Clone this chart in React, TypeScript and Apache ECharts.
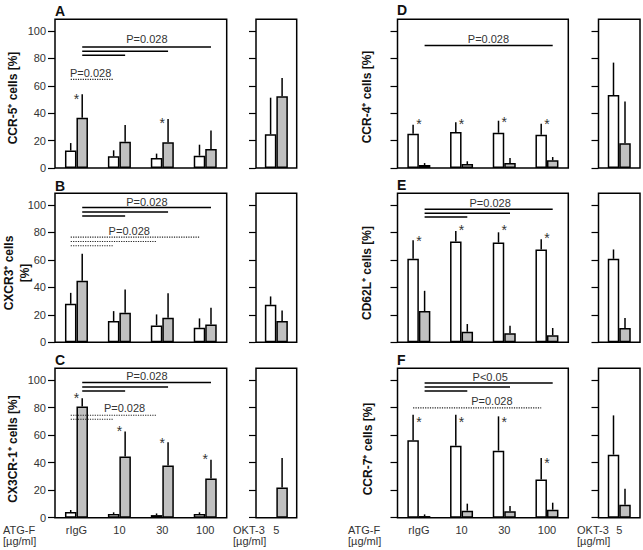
import { useEffect, useRef } from "react";
import * as echarts from "echarts";

const categories = ["rIgG", "10", "30", "100"];
const oktCategories = ["5"];
const yTicks = [0, 20, 40, 60, 80, 100];

// Panel A: CCR-5+
const aWhite = [12.7, 8.5, 7.3, 9.0];
const aWhiteSd = [5.5, 4.4, 3.2, 8.0];
const aGray = [36.7, 19.2, 18.7, 13.9];
const aGraySd = [17.1, 12.2, 17.1, 13.4];
const aOkt = [24.6, 52.3];
const aOktSd = [26.7, 13.4];
// [fromGroup, fromBar(0 white/1 gray), toGroup, toBar, y, dotted]
const aLines = [[0, 1, 3, 1, 88.3, 0], [0, 1, 2, 1, 85.2, 0], [0, 1, 1, 1, 82.2, 0], [0, 0, 1, 0, 64.7, 1]];
const aLabels: [number, number, string][] = [[1.64, 93.9, "P=0.028"], [0.33, 69.6, "P=0.028"]];
const aStars = [[0, 52.3], [2, 35.3]];

// Panel B: CXCR3+
const bWhite = [28.0, 15.5, 12.3, 10.6];
const bWhiteSd = [8.0, 7.2, 8.0, 6.8];
const bGray = [44.9, 21.5, 17.9, 13.0];
const bGraySd = [19.6, 16.9, 17.8, 12.1];
const bOkt = [27.3, 15.6];
const bOktSd = [6.1, 7.6];
const bLines = [[0, 1, 3, 1, 98.1, 0], [0, 1, 2, 1, 94.9, 0], [0, 1, 1, 1, 92.0, 0], [0, 0, 3, 0, 76.6, 1], [0, 0, 2, 0, 73.4, 1], [0, 0, 1, 0, 70.3, 1]];
const bLabels: [number, number, string][] = [[1.64, 102.4, "P=0.028"], [1.23, 81.4, "P=0.028"]];
const bStars: number[][] = [];

// Panel C: CX3CR-1+
const cWhite = [4.1, 2.7, 1.9, 2.7];
const cWhiteSd = [1.5, 1.2, 1.2, 1.2];
const cGray = [80.7, 44.4, 37.9, 28.5];
const cGraySd = [6.0, 18.2, 16.9, 13.5];
const cOkt = [null, 22.0];
const cOktSd = [null, 21.3];
const cLines = [[0, 1, 3, 1, 98.1, 0], [0, 1, 2, 1, 94.9, 0], [0, 1, 1, 1, 92.0, 0], [0, 0, 2, 0, 74.4, 1], [0, 0, 1, 0, 71.5, 1]];
const cLabels: [number, number, string][] = [[1.64, 103.0, "P=0.028"], [1.12, 79.8, "P=0.028"]];
const cStars = [[0, 89.0], [1, 64.8], [2, 56.3], [3, 45.1]];

// Panel D: CCR-4+
const dWhite = [25.0, 26.2, 25.7, 24.3];
const dWhiteSd = [6.6, 7.1, 8.8, 8.0];
const dGray = [2.2, 2.9, 3.6, 5.6];
const dGraySd = [1.4, 2.0, 3.7, 2.4];
const dOkt = [53.2, 18.0];
const dOktSd = [23.7, 30.5];
const dLines = [[0, 1, 3, 1, 89.3, 0]];
const dLabels: [number, number, string][] = [[1.63, 94.2, "P=0.028"]];
const dStars = [[0, 34.5], [1, 34.5], [2, 35.9], [3, 34.5]];

// Panel E: CD62L+
const eWhite = [60.8, 73.4, 72.6, 67.6];
const eWhiteSd = [13.5, 7.7, 7.5, 7.5];
const eGray = [22.8, 7.7, 6.5, 5.1];
const eGraySd = [14.7, 5.6, 5.6, 5.3];
const eOkt = [60.8, 10.4];
const eOktSd = [6.8, 7.3];
const eLines = [[0, 1, 3, 1, 96.9, 0], [0, 1, 2, 1, 94.0, 0], [0, 1, 1, 1, 91.3, 0]];
const eLabels: [number, number, string][] = [[1.67, 101.5, "P=0.028"]];
const eStars = [[0, 76.3], [1, 84.0], [2, 84.0], [3, 78.2]];

// Panel F: CCR-7+
const fWhite = [56.2, 52.3, 48.7, 27.8];
const fWhiteSd = [18.6, 22.5, 24.9, 15.5];
const fGray = [1.2, 5.1, 4.6, 5.8];
const fGraySd = [1.2, 5.1, 3.9, 5.1];
const fOkt = [45.8, 9.4];
const fOktSd = [28.5, 11.7];
const fLines = [[0, 1, 3, 1, 97.8, 0], [0, 1, 2, 1, 94.9, 0], [0, 1, 1, 1, 92.0, 0], [0, 0, 3, 0, 79.7, 1]];
const fLabels: [number, number, string][] = [[1.67, 102.2, "P<0.05"], [1.71, 84.5, "P=0.028"]];
const fStars = [[0, 71.9], [1, 71.9], [2, 71.9], [3, 41.6]];

const yTitles = ["CCR-5⁺ cells [%]", "CXCR3⁺ cells\n[%]", "CX3CR-1⁺ cells [%]", "CCR-4⁺ cells [%]", "CD62L⁺ cells [%]", "CCR-7⁺ cells [%]"];
const panelLetters = ["A", "B", "C", "D", "E", "F"];

const FONT = "Liberation Sans, Arial, Helvetica, sans-serif";
const HALF_BAR = 5.75;

const panels = [
  { white: aWhite, whiteSd: aWhiteSd, gray: aGray, graySd: aGraySd, okt: aOkt, oktSd: aOktSd, lines: aLines, labels: aLabels, stars: aStars },
  { white: bWhite, whiteSd: bWhiteSd, gray: bGray, graySd: bGraySd, okt: bOkt, oktSd: bOktSd, lines: bLines, labels: bLabels, stars: bStars },
  { white: cWhite, whiteSd: cWhiteSd, gray: cGray, graySd: cGraySd, okt: cOkt, oktSd: cOktSd, lines: cLines, labels: cLabels, stars: cStars },
  { white: dWhite, whiteSd: dWhiteSd, gray: dGray, graySd: dGraySd, okt: dOkt, oktSd: dOktSd, lines: dLines, labels: dLabels, stars: dStars },
  { white: eWhite, whiteSd: eWhiteSd, gray: eGray, graySd: eGraySd, okt: eOkt, oktSd: eOktSd, lines: eLines, labels: eLabels, stars: eStars },
  { white: fWhite, whiteSd: fWhiteSd, gray: fGray, graySd: fGraySd, okt: fOkt, oktSd: fOktSd, lines: fLines, labels: fLabels, stars: fStars },
];

const rows = [
  { top: 19.3, h: 148.7 },
  { top: 193.3, h: 149 },
  { top: 368.3, h: 149.4 },
];
const mainCols = [{ left: 55, w: 171.7 }, { left: 397.5, w: 170.8 }];
const oktCols = [{ left: 256, w: 40.7 }, { left: 598.5, w: 41.5 }];

const titlePos = [[13, 98], [16.5, 273], [13, 449], [366.7, 97], [366.7, 273], [368, 449]];
const letterPos = [[55, 10.5], [55, 186], [55, 360], [397, 10], [397, 185], [397, 360]];

function catX(api: any, pos: number, y: number) {
  const c0 = api.coord([0, y]);
  const c1 = api.coord([1, y]);
  return c0[0] + pos * (c1[0] - c0[0]);
}

function frameRender(params: any) {
  const cs = params.coordSys;
  return {
    type: "rect",
    shape: { x: cs.x, y: cs.y, width: cs.width, height: cs.height },
    style: { fill: "none", stroke: "#000", lineWidth: 1.5 },
    z2: 100,
  };
}

function errRender(_params: any, api: any) {
  const i = api.value(0);
  const m = api.value(1);
  const sd = api.value(2);
  const side = api.value(3);
  const b = api.coord([i, m]);
  const t = api.coord([i, m + sd]);
  const x = b[0] + (side ? HALF_BAR : -HALF_BAR);
  return { type: "line", shape: { x1: x, y1: b[1], x2: x, y2: t[1] }, style: { stroke: "#000", lineWidth: 1.5 } };
}

function buildOption() {
  const grid: any[] = [];
  const xAxis: any[] = [];
  const yAxis: any[] = [];
  const series: any[] = [];
  const graphic: any[] = [];

  panels.forEach((p, k) => {
    const col = k < 3 ? 0 : 1;
    const row = rows[k % 3];
    const bottomRow = k % 3 === 2;
    const mc = mainCols[col];
    const oc = oktCols[col];
    const gMain = 2 * k;
    const gOkt = 2 * k + 1;
    grid.push({ left: mc.left, top: row.top, width: mc.w, height: row.h, show: false });
    grid.push({ left: oc.left, top: row.top, width: oc.w, height: row.h, show: false });

    const catAxisBase = {
      type: "category",
      position: "bottom",
      axisLine: { show: false },
      axisTick: { show: false },
      splitLine: { show: false },
      axisLabel: { show: bottomRow, margin: 7, fontSize: 11, color: "#333", fontFamily: FONT },
    };
    xAxis.push({ ...catAxisBase, gridIndex: gMain, data: categories });
    xAxis.push({ ...catAxisBase, gridIndex: gOkt, data: oktCategories });

    const yBase = {
      type: "value",
      min: 0,
      max: 108.5,
      position: "left",
      axisLine: { show: false, onZero: false },
      splitLine: { show: false },
      axisTick: { show: true, length: 7, lineStyle: { color: "#000", width: 1.2 }, customValues: yTicks },
    };
    yAxis.push({
      ...yBase,
      gridIndex: gMain,
      axisLabel: { show: col === 0, customValues: yTicks, margin: 9, fontSize: 11, color: "#333", fontFamily: FONT },
    });
    yAxis.push({ ...yBase, gridIndex: gOkt, axisLabel: { show: false } });

    const barStyle = (fill: string) => ({ color: fill, borderColor: "#000", borderWidth: 1.5 });
    series.push({ type: "bar", xAxisIndex: gMain, yAxisIndex: gMain, data: p.white, barWidth: 11.5, barGap: "0%", itemStyle: barStyle("#ffffff") });
    series.push({ type: "bar", xAxisIndex: gMain, yAxisIndex: gMain, data: p.gray, barWidth: 11.5, barGap: "0%", itemStyle: barStyle("#c0c0c0") });
    series.push({ type: "bar", xAxisIndex: gOkt, yAxisIndex: gOkt, data: [p.okt[0] == null ? "-" : p.okt[0]], barWidth: 11.5, barGap: "0%", itemStyle: barStyle("#ffffff") });
    series.push({ type: "bar", xAxisIndex: gOkt, yAxisIndex: gOkt, data: [p.okt[1] == null ? "-" : p.okt[1]], barWidth: 11.5, barGap: "0%", itemStyle: barStyle("#c0c0c0") });

    const mainErr: number[][] = [];
    p.white.forEach((v, i) => mainErr.push([i, v, p.whiteSd[i], 0]));
    p.gray.forEach((v, i) => mainErr.push([i, v, p.graySd[i], 1]));
    series.push({ type: "custom", xAxisIndex: gMain, yAxisIndex: gMain, data: mainErr, encode: { x: 0, y: 1 }, renderItem: errRender, z: 3 });
    const oktErr: number[][] = [];
    if (p.okt[0] != null) oktErr.push([0, p.okt[0] as number, p.oktSd[0] as number, 0]);
    if (p.okt[1] != null) oktErr.push([0, p.okt[1] as number, p.oktSd[1] as number, 1]);
    series.push({ type: "custom", xAxisIndex: gOkt, yAxisIndex: gOkt, data: oktErr, encode: { x: 0, y: 1 }, renderItem: errRender, z: 3 });

    // panel frames
    series.push({ type: "custom", xAxisIndex: gMain, yAxisIndex: gMain, data: [[0, 0]], encode: { x: 0, y: 1 }, renderItem: frameRender, z: 6, silent: true });
    series.push({ type: "custom", xAxisIndex: gOkt, yAxisIndex: gOkt, data: [[0, 0]], encode: { x: 0, y: 1 }, renderItem: frameRender, z: 6, silent: true });

    // significance lines
    series.push({
      type: "custom",
      xAxisIndex: gMain,
      yAxisIndex: gMain,
      data: p.lines.map((l) => [0, l[4], l[0], l[1], l[2], l[3], l[5]]),
      encode: { x: 0, y: 1 },
      z: 4,
      renderItem: (_params: any, api: any) => {
        const y = api.value(1);
        const py = api.coord([0, y])[1];
        const x1 = catX(api, api.value(2), y) + (api.value(3) ? HALF_BAR : -HALF_BAR);
        const x2 = catX(api, api.value(4), y) + (api.value(5) ? HALF_BAR : -HALF_BAR);
        const dotted = api.value(6) === 1;
        return {
          type: "line",
          shape: { x1, y1: py, x2, y2: py },
          style: dotted ? { stroke: "#222", lineWidth: 1.2, lineDash: [1.2, 1.2] } : { stroke: "#000", lineWidth: 1.5 },
        };
      },
    });

    const labels = p.labels;
    series.push({
      type: "custom",
      xAxisIndex: gMain,
      yAxisIndex: gMain,
      data: labels.map((l) => [0, l[1], l[0]]),
      encode: { x: 0, y: 1 },
      z: 5,
      renderItem: (params: any, api: any) => {
        const y = api.value(1);
        return {
          type: "text",
          x: catX(api, api.value(2), y),
          y: api.coord([0, y])[1],
          style: { text: labels[params.dataIndex][2], fill: "#333", fontSize: 11, fontFamily: FONT, align: "center", verticalAlign: "middle" },
        };
      },
    });

    series.push({
      type: "custom",
      xAxisIndex: gMain,
      yAxisIndex: gMain,
      data: p.stars.map((s) => [0, s[1], s[0]]),
      encode: { x: 0, y: 1 },
      z: 5,
      renderItem: (_params: any, api: any) => {
        const y = api.value(1);
        return {
          type: "text",
          x: catX(api, api.value(2), y),
          y: api.coord([0, y])[1] + 3,
          style: { text: "*", fill: "#333", fontSize: 14, fontFamily: FONT, align: "center", verticalAlign: "middle" },
        };
      },
    });
  });

  yTitles.forEach((t, k) => {
    graphic.push({
      type: "text",
      x: titlePos[k][0],
      y: titlePos[k][1],
      rotation: Math.PI / 2,
      style: { text: t, fill: "#111", fontSize: 12, fontWeight: "bold", fontFamily: FONT, align: "center", verticalAlign: "middle", lineHeight: 16 },
    });
  });
  panelLetters.forEach((t, k) => {
    graphic.push({
      type: "text",
      x: letterPos[k][0],
      y: letterPos[k][1],
      style: { text: t, fill: "#111", fontSize: 14, fontWeight: "bold", fontFamily: FONT, align: "left", verticalAlign: "middle" },
    });
  });
  const unitLabels = [
    [3, "ATG-F\n[µg/ml]"],
    [233, "OKT-3\n[µg/ml]"],
    [348, "ATG-F\n[µg/ml]"],
    [577, "OKT-3\n[µg/ml]"],
  ];
  unitLabels.forEach((u) => {
    graphic.push({
      type: "text",
      x: u[0] as number,
      y: 535.5,
      style: { text: u[1] as string, fill: "#333", fontSize: 11, fontFamily: FONT, align: "left", verticalAlign: "middle", lineHeight: 11.5 },
    });
  });

  return { animation: false, grid, xAxis, yAxis, series, graphic };
}

export default function App() {
  const ref = useRef<HTMLDivElement>(null);
  useEffect(() => {
    if (!ref.current) return;
    const chart = echarts.init(ref.current, undefined, { renderer: "svg" });
    chart.setOption(buildOption() as any);
    return () => chart.dispose();
  }, []);
  return <div ref={ref} style={{ position: "fixed", left: 0, top: 0, width: 643, height: 550, background: "#fff" }} />;
}
